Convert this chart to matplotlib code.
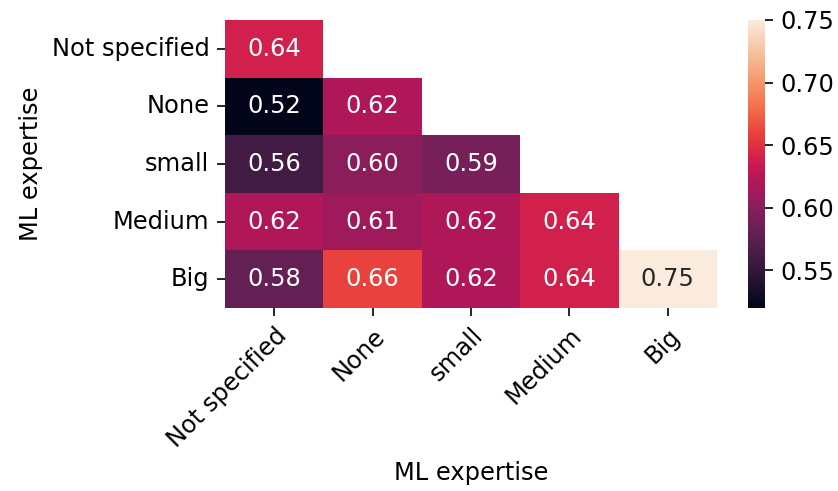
import numpy as np
import matplotlib
matplotlib.use("Agg")
import matplotlib.pyplot as plt
import seaborn as sns

levels = ["Not specified", "None", "small", "Medium", "Big"]

# lower triangle of the score matrix, rows = ML expertise
row_not_specified = [0.64]
row_none = [0.52, 0.62]
row_small = [0.56, 0.60, 0.59]
row_medium = [0.62, 0.61, 0.62, 0.64]
row_big = [0.58, 0.66, 0.62, 0.64, 0.75]

rows = [row_not_specified, row_none, row_small, row_medium, row_big]
n = len(levels)
mat = np.full((n, n), np.nan)
for i, r in enumerate(rows):
    mat[i, :len(r)] = r
mask = np.isnan(mat)

plt.rcParams["font.size"] = 11.6
plt.rcParams["xtick.major.size"] = 4
plt.rcParams["ytick.major.size"] = 4

W, H = 838, 491
fig = plt.figure(figsize=(W / 150, H / 150), dpi=150)
ax = fig.add_axes([225 / W, 1 - 308 / H, (717 - 225) / W, (308 - 20) / H])
cax = fig.add_axes([748 / W, 1 - 308 / H, (765 - 748) / W, (308 - 20) / H])
sns.heatmap(mat, mask=mask, annot=True, fmt=".2f", cmap="rocket",
            xticklabels=levels, yticklabels=levels, ax=ax, cbar_ax=cax,
            annot_kws={"size": 11.6})
ax.set_xlabel("ML expertise")
ax.set_ylabel("ML expertise")
plt.setp(ax.get_xticklabels(), rotation=45, ha="right", rotation_mode="anchor")
plt.setp(ax.get_yticklabels(), rotation=0)
cax.tick_params(labelsize=11.6)
plt.savefig("out.png", dpi=150)
